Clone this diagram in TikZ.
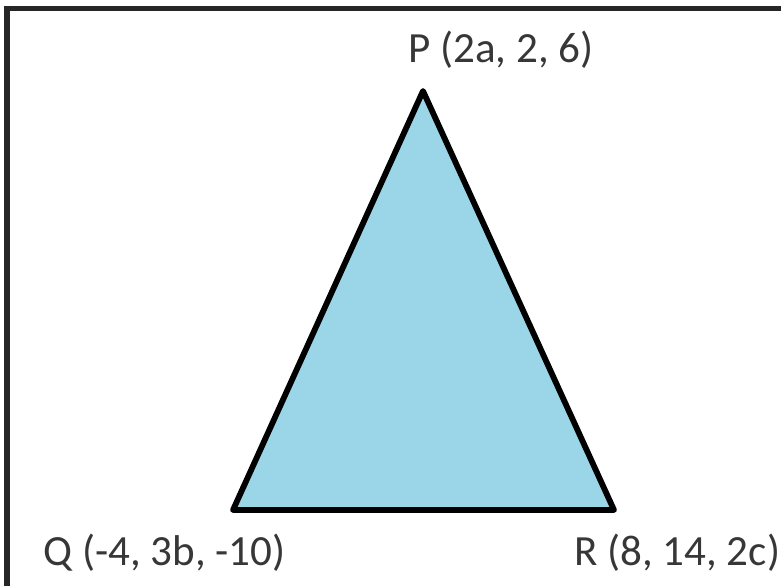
\documentclass[tikz,border=0pt]{standalone}
\usepackage{xcolor}
\usepackage{fontspec}
\setmainfont{Carlito}
\usepackage{tikz}
\definecolor{triblue}{RGB}{155,213,232}
\definecolor{labelgray}{RGB}{55,55,55}

\begin{document}
\begin{tikzpicture}[
    vlabel/.style={anchor=base west, inner sep=0pt, text=labelgray,
      font=\fontsize{24.5}{29}\selectfont}]
  % Page size
  \useasboundingbox (0,0) rectangle (15.62,11.72);
  % Frame (top and left edges)
  \draw[black!85, line width=0.1cm] (0.14,0) -- (0.14,11.55) -- (15.62,11.55);
  % Vertices
  \coordinate (P) at (8.46,9.90);
  \coordinate (Q) at (4.66,1.52);
  \coordinate (R) at (12.28,1.52);
  % Triangle
  \filldraw[fill=triblue, draw=black, line width=3.3pt, line join=round]
    (P) -- (Q) -- (R) -- cycle;
  % Vertex labels
  \node[vlabel] (labP) at (8.16,10.46) {P (2a, 2, 6)};
  \node[vlabel] (labQ) at (0.86,0.42) {Q (-4, 3b, -10)};
  \node[vlabel] (labR) at (11.48,0.42) {R (8, 14, 2c)};
\end{tikzpicture}
\end{document}
